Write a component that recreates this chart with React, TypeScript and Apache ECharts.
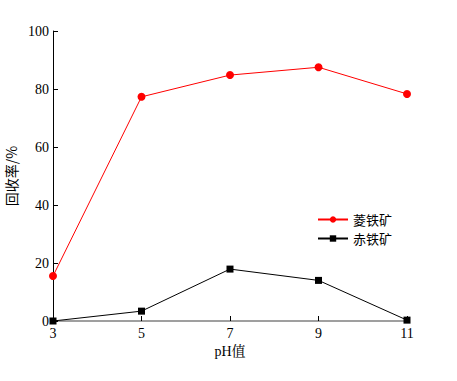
import React, { useEffect, useRef } from "react";
import * as echarts from "echarts";

const phValues = [3, 5, 7, 9, 11];
const sideriteRecovery = [15.5, 77.3, 84.8, 87.5, 78.3];
const hematiteRecovery = [0, 3.4, 17.9, 14.0, 0.3];
const seriesNames = ["菱铁矿", "赤铁矿"];
const xAxisName = "pH值";
const yAxisName = "回收率/%";

const serif = "'Liberation Serif', 'Noto Serif CJK SC', 'Noto Sans CJK SC', serif";
const cjk = "'Noto Sans CJK SC', sans-serif";

export default function App() {
  const ref = useRef<HTMLDivElement>(null);
  useEffect(() => {
    if (!ref.current) return;
    const chart = echarts.init(ref.current, undefined, { renderer: "svg" });
    chart.setOption({
      animation: false,
      backgroundColor: "#fff",
      grid: { left: 53, top: 31, right: 50, bottom: 60, outerBoundsMode: "none", containLabel: false },
      legend: {
        orient: "vertical",
        left: 312,
        top: 208,
        itemWidth: 30,
        itemHeight: 8,
        itemGap: 6,
        textStyle: { fontFamily: cjk, fontSize: 13, color: "#000" },
        data: seriesNames,
      },
      xAxis: {
        type: "value",
        min: 3,
        max: 11,
        interval: 2,
        name: xAxisName,
        nameLocation: "middle",
        nameGap: 23,
        nameTextStyle: { fontFamily: serif, fontSize: 14, color: "#000" },
        axisLine: { lineStyle: { color: "#808080", width: 1.5 } },
        axisTick: { inside: true, length: 5, lineStyle: { color: "#000" } },
        axisLabel: { fontFamily: serif, fontSize: 14, color: "#000", margin: 5 },
        splitLine: { show: false },
      },
      yAxis: {
        type: "value",
        min: 0,
        max: 100,
        interval: 20,
        name: yAxisName,
        nameLocation: "middle",
        nameGap: 35,
        nameMoveOverlap: false,
        nameRotate: 90,
        nameTextStyle: { fontFamily: cjk, fontSize: 14, color: "#000" },
        axisLine: { show: true, lineStyle: { color: "#000", width: 1 } },
        axisTick: { show: true, inside: true, length: 5, lineStyle: { color: "#000" } },
        axisLabel: { fontFamily: serif, fontSize: 14, color: "#000", margin: 4 },
        splitLine: { show: false },
      },
      series: [
        {
          name: seriesNames[0],
          type: "line",
          data: phValues.map((x, i) => [x, sideriteRecovery[i]]),
          symbol: "circle",
          symbolSize: 8,
          itemStyle: { color: "#ff0000" },
          lineStyle: { color: "#ff0000", width: 1 },
        },
        {
          name: seriesNames[1],
          type: "line",
          data: phValues.map((x, i) => [x, hematiteRecovery[i]]),
          symbol: "rect",
          symbolSize: 7,
          itemStyle: { color: "#000" },
          lineStyle: { color: "#000", width: 1 },
        },
      ],
    });
    return () => chart.dispose();
  }, []);
  return (
    <div
      ref={ref}
      style={{ position: "fixed", left: 0, top: 0, width: 457, height: 381 }}
    />
  );
}
